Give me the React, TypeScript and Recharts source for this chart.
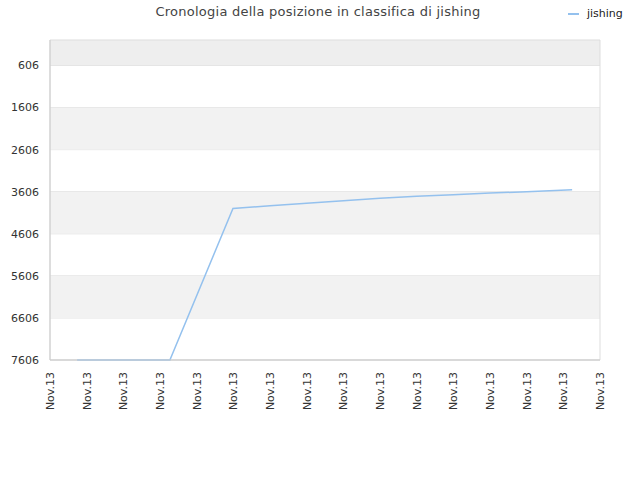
import React from "react";
import { LineChart, Line, XAxis, YAxis, CartesianGrid, ReferenceArea } from "recharts";

// Positions along the time axis (in tick units) and ranking values.
const POSITIONS = [0.74, 2.0, 3.27, 4.99, 6, 7, 8, 9, 10, 11, 12, 13, 14.24];
const RANKS = [7606, 7606, 7606, 4005, 3941, 3879, 3822, 3763, 3715, 3677, 3639, 3604, 3561];

const Y_TICKS = [606, 1606, 2606, 3606, 4606, 5606, 6606, 7606];
const X_TICKS = Array.from({ length: 16 }, (_, i) => i);
const X_LABEL = "Nov.13";

// Shaded bands between gridlines
const BANDS: [number, number, string][] = [
  [0, 606, "#eeeeee"],
  [1606, 2606, "#f2f2f2"],
  [3606, 4606, "#f2f2f2"],
  [5606, 6606, "#f2f2f2"],
];

const FONT = "DejaVu Sans, sans-serif";
const LINE_COLOR = "#94c1ee";

const data = POSITIONS.map((t, i) => ({ t, rank: RANKS[i] }));

function RotatedTick({ x, y }: { x?: number; y?: number }) {
  return (
    <g transform={`translate(${x || 0},${(y || 0) + 10}) rotate(-90)`}>
      <text textAnchor="end" dy="0.35em" fontSize={11} fill="#333" fontFamily={FONT}>
        {X_LABEL}
      </text>
    </g>
  );
}

export default function App() {
  return (
    <div style={{ position: "absolute", left: 0, top: 0, width: 640, height: 480, background: "#fff" }}>
      <div
        style={{
          position: "absolute",
          top: 4,
          left: 0,
          width: 636,
          textAlign: "center",
          fontFamily: FONT,
          fontSize: 13,
          letterSpacing: 0.25,
          color: "#444",
        }}
      >
        Cronologia della posizione in classifica di jishing
      </div>
      <div
        style={{
          position: "absolute",
          top: 7,
          left: 568,
          display: "flex",
          alignItems: "center",
          fontFamily: FONT,
          fontSize: 11,
          color: "#222",
        }}
      >
        <span style={{ display: "inline-block", width: 11, height: 2, background: LINE_COLOR, marginRight: 8 }} />
        jishing
      </div>
      <LineChart width={640} height={480} data={data} margin={{ top: 40, right: 40, left: 0, bottom: 0 }}>
        {BANDS.map(([a, b, c], i) => (
          <ReferenceArea key={`band-${i}`} y1={a} y2={b} fill={c} fillOpacity={1} stroke="none" ifOverflow="visible" />
        ))}
        <CartesianGrid vertical={false} stroke="#dddddd" horizontalValues={Y_TICKS} />
        <XAxis
          type="number"
          dataKey="t"
          domain={[0, 15]}
          ticks={X_TICKS}
          interval={0}
          height={120}
          tick={<RotatedTick />}
          tickLine={false}
          tickSize={0}
          axisLine={{ stroke: "#cccccc" }}
        />
        <YAxis
          type="number"
          reversed
          domain={[0, 7606]}
          ticks={Y_TICKS}
          interval={0}
          width={50}
          tickLine={false}
          tickSize={0}
          tickMargin={11}
          tick={{ fontSize: 11, fill: "#333", fontFamily: FONT }}
          axisLine={{ stroke: "#cccccc" }}
        />
        <ReferenceArea x1={0} x2={15} y1={0} y2={7606} fill="none" stroke="#dddddd" ifOverflow="visible" />
        <Line
          type="linear"
          dataKey="rank"
          stroke={LINE_COLOR}
          strokeWidth={1.5}
          dot={false}
          isAnimationActive={false}
        />
      </LineChart>
    </div>
  );
}
